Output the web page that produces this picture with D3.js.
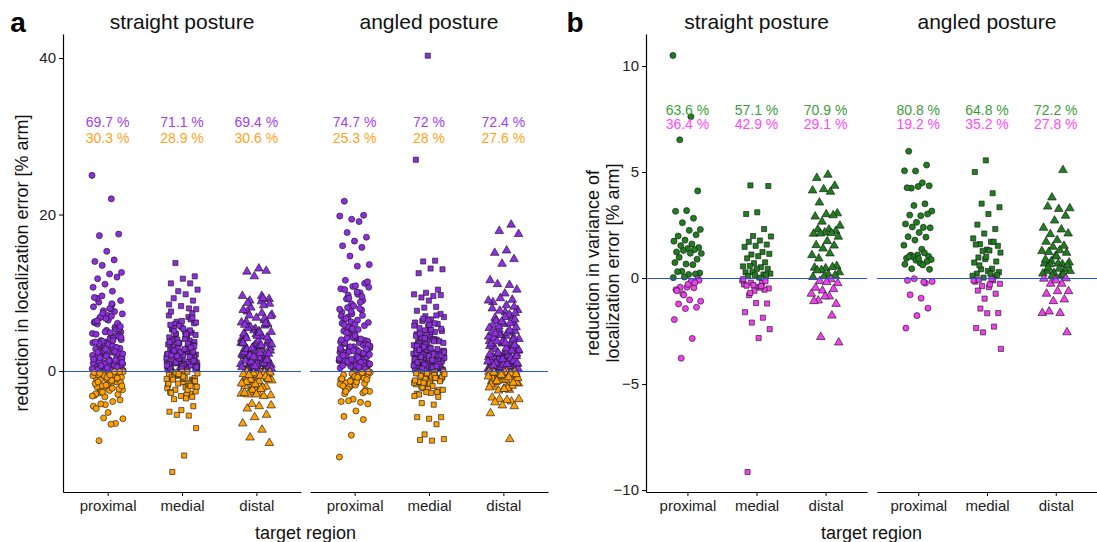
<!DOCTYPE html>
<html>
<head>
<meta charset="utf-8">
<script src="https://cdn.jsdelivr.net/npm/d3@7"></script>
<style>
  body { margin: 0; background: #fff; }
  svg { display: block; font-family: "Liberation Sans", Arial, sans-serif; }
</style>
</head>
<body>
<div id="chart"></div>
<script>
// categories
const regions = ["proximal", "medial", "distal"];
const postures = ["straight posture", "angled posture"];

// panel a: reduction in localization error [% arm]
const errStraightProximal = [25.0, 22.0, 17.3, 17.5, 15.3, 14.0, 14.2, 13.5, 12.6, 12.4, 11.8, 12.0, 11.1, 10.7, 10.2,
  3.2, 0.4, 7.1, 1.8, 5.5, 2.6, 0.9, 4.3, 8.8, 1.2, 3.7, 6.2, 0.2, 2.1, 5.0, 1.5, 9.3, 3.0, 0.7, 4.8, 2.4, 6.8, 1.1, 3.5, 0.3,
  7.6, 2.9, 1.6, 4.1, 0.6, 5.8, 2.2, 8.2, 1.0, 3.9, 0.5, 6.5, 1.9, 4.5, 2.7, 0.1, 7.9, 3.3, 1.4, 5.2, 0.8, 2.5, 9.6, 4.0, 1.3,
  6.0, 2.0, 0.4, 3.6, 8.5, 1.7, 4.6, 0.9, 2.8, 5.6, 1.1, 7.3, 3.1, 0.2, 2.3, 6.7, 1.5, 4.2, 0.6, 9.0, 3.4, 1.8, 5.3, 2.6, 0.3,
  7.0, 1.2, 4.4, 2.1, 6.3, 0.7, 3.8, 1.6, 8.0, 2.4, 0.5, 5.0, 1.0, 3.2, 6.9, 2.9, 0.8, 4.7, 1.4, 7.7, 2.2, 0.1, 3.5, 5.9, 1.9,
  9.4, 2.7, 0.6, 4.3, 1.3, 6.4, 3.0, 0.9, 2.0, 8.6, 1.7, 5.4, 0.4, 3.7, 2.5, 7.4, 1.1, 4.9, 0.2, 6.1, 2.8, 1.5, 3.9, 0.7, 5.7,
  -0.3, -1.2, -0.7, -2.1, -0.1, -1.6, -2.8, -0.5, -1.0, -3.1, -0.2, -1.9, -0.8, -2.5, -0.4, -1.4, -3.3, -0.6, -2.2, -1.1,
  -0.1, -1.7, -2.9, -0.9, -0.3, -2.4, -1.3, -0.5, -3.0, -1.8, -0.2, -0.7, -2.6, -1.5, -0.4, -2.0, -1.0, -0.6, -3.2, -1.2,
  -0.3, -2.3, -0.8, -1.6, -0.1, -2.7, -1.9, -0.5, -1.4, -0.9,
  -4.3, -4.5, -3.9, -4.2, -3.7, -5.3, -4.8, -6.7, -6.0, -6.1, -6.8, -8.9];
const errStraightMedial = [13.8, 12.1, 11.8, 11.2, 11.2, 10.2, 10.4, 9.8, 9.3, 9.0, 8.3, 8.5, 6.9, 6.3,
  2.1, 0.5, 5.3, 1.4, 3.6, 0.2, 4.4, 1.9, 6.1, 0.8, 2.7, 3.9, 1.1, 0.3, 5.0, 2.3, 7.4, 1.6, 0.6, 3.2, 4.7, 1.0, 2.5, 0.1, 6.6,
  3.5, 1.3, 0.4, 4.1, 2.0, 5.6, 0.9, 2.9, 1.7, 7.9, 0.2, 3.0, 4.9, 1.2, 0.7, 2.4, 6.0, 3.7, 1.5, 0.3, 5.2, 2.2, 0.8, 4.2, 1.8,
  3.3, 0.5, 7.1, 2.6, 1.0, 4.6, 0.1, 3.8, 1.4, 5.8, 2.1, 0.6, 3.1, 1.9, 6.4, 0.4, 2.8, 4.0, 1.1, 0.9, 5.5, 2.3, 1.6, 3.4, 0.2,
  4.8, 1.3, 2.0, 7.6, 0.7, 3.6, 1.7, 0.3, 5.1, 2.5, 0.5, 4.3, 1.2, 2.7, 6.2, 0.8, 3.9, 1.5, 0.1, 2.2, 4.5, 1.0, 3.2, 0.6, 5.9,
  1.8, 2.9, 0.4, 4.1, 1.4, 6.8, 2.4, 0.9, 3.5, 1.1, 0.2, 5.4, 2.0, 3.0, 1.6, 0.7, 4.7, 2.6, 1.3, 0.3, 3.7, 8.0, 1.9, 0.5, 2.8,
  -0.2, -1.1, -0.6, -1.8, -0.1, -2.4, -0.9, -1.4, -0.4, -2.9, -1.6, -0.3, -2.1, -0.7, -1.2, -3.2, -0.5, -1.9, -0.2, -2.6,
  -1.0, -0.8, -1.5, -0.3, -2.2, -3.0, -0.6, -1.3, -0.1, -2.7, -1.7, -0.4, -2.0, -0.9, -1.1, -3.3, -0.5, -1.6, -2.4, -0.2,
  -1.3, -0.7, -2.8, -1.9, -0.4, -1.0,
  -3.5, -3.6, -4.5, -5.0, -5.2, -5.7, -5.6, -7.3, -10.8, -12.9];
const errStraightDistal = [13.1, 12.7, 12.8, 12.1, 9.6, 9.6, 9.0, 9.2,
  1.2, 4.6, 0.3, 2.8, 7.2, 1.7, 0.6, 3.5, 5.4, 2.1, 0.9, 8.1, 3.0, 1.4, 6.3, 0.2, 2.5, 4.1, 1.0, 0.5, 3.8, 6.8, 1.9, 2.3, 0.1,
  5.0, 1.5, 7.6, 0.7, 3.3, 2.0, 4.4, 0.4, 8.6, 1.1, 2.7, 5.8, 0.8, 3.6, 1.6, 0.2, 6.0, 2.4, 4.8, 1.3, 0.6, 7.0, 3.1, 1.8, 0.3,
  5.2, 2.2, 8.9, 0.9, 4.0, 1.2, 2.9, 6.5, 0.5, 3.4, 1.7, 0.1, 4.3, 2.6, 7.8, 1.0, 5.6, 0.4, 3.9, 1.4, 2.1, 0.7, 6.2, 3.2, 1.9,
  0.3, 4.7, 2.4, 8.4, 1.1, 0.8, 5.1, 2.8, 1.5, 0.2, 3.7, 7.4, 2.0, 0.6, 4.5, 1.3, 6.7, 3.0, 0.9, 2.3, 5.5, 1.6, 0.4, 3.5, 9.3,
  1.2, 2.6, 0.1, 4.2, 6.1, 1.8, 0.5, 3.3, 7.1, 2.2, 0.8, 5.9, 1.0, 2.9, 0.3, 4.9, 8.7, 1.4, 0.6, 3.6,
  -0.3, -1.4, -0.1, -2.2, -0.8, -0.5, -1.8, -2.9, -0.2, -1.1, -0.6, -2.5, -1.6, -0.4, -0.9, -3.1, -1.3, -0.1, -2.0, -0.7,
  -1.5, -0.3, -2.7, -1.0, -0.5, -1.9, -0.2, -2.4, -1.2, -0.6, -3.0, -0.9, -1.7, -0.4, -2.1, -1.1, -0.2, -2.8, -1.4, -0.7,
  -0.3, -1.6, -2.3, -0.5, -1.0,
  -3.0, -2.8, -3.2, -4.2, -4.4, -4.5, -4.8, -5.6, -5.9, -6.7, -7.5, -8.5, -9.2];
const errAngledProximal = [21.7, 19.9, 19.4, 19.8, 19.1, 17.7, 17.1, 16.6, 16.0, 15.8, 14.7, 13.6, 13.4, 11.6, 11.2, 10.8,
  10.5, 10.0, 9.7, 11.4, 10.9,
  2.4, 0.6, 6.3, 1.3, 4.0, 9.2, 0.2, 3.1, 7.5, 1.8, 5.2, 0.9, 2.7, 10.4, 1.5, 4.6, 0.4, 3.6, 8.1, 2.0, 6.0, 1.1, 0.7, 5.5,
  2.9, 9.8, 1.6, 3.9, 0.3, 7.0, 2.2, 4.8, 1.0, 0.5, 6.6, 3.3, 8.6, 1.4, 2.5, 5.0, 0.1, 4.2, 1.9, 7.8, 3.0, 0.8, 10.1, 2.3,
  5.8, 1.2, 3.7, 0.4, 6.9, 2.6, 4.4, 1.7, 9.0, 0.6, 3.2, 5.3, 2.0, 0.2, 8.3, 1.5, 4.1, 2.8, 6.2, 0.9, 3.5, 1.1, 7.3, 2.4,
  0.3, 5.7, 1.8, 4.7, 0.7, 9.5, 3.0, 2.1, 6.5, 1.3, 0.5, 4.3, 2.7, 8.8, 1.0, 3.8, 0.1, 5.1, 2.2, 7.6, 1.6, 0.8, 4.9, 3.4,
  1.4, 6.1, 0.4, 2.5, 10.7, 1.9, 3.6, 0.6, 5.4, 2.9, 8.0, 1.2, 0.2, 4.5, 2.0, 7.1, 3.1, 0.9, 1.7, 6.7, 0.3, 2.6, 4.0, 1.1,
  9.3, 3.3, 0.7, 5.9, 2.3, 1.5, 7.9, 0.5, 4.2, 2.8,
  -0.2, -1.3, -0.6, -2.0, -0.1, -0.9, -2.5, -1.6, -0.4, -1.1, -0.3, -2.2, -0.7, -1.8, -0.5, -2.8, -1.2, -0.2, -0.8, -1.5,
  -2.4, -0.4, -1.0, -0.6, -2.0, -0.1, -1.4, -2.9, -0.9, -0.3, -1.7, -0.5, -2.3, -1.1, -0.7, -1.9, -0.2, -1.3, -2.6, -0.8,
  -2.6, -2.6, -3.6, -3.9, -4.0, -3.8, -4.2, -5.1, -5.8, -6.2, -8.2, -11.0];
const errAngledMedial = [40.3, 27.0, 14.1, 14.0, 13.0, 13.1, 12.5, 10.4, 10.0, 9.8, 9.6, 9.4, 9.7, 9.0, 7.7, 8.2, 8.1,
  1.9, 0.4, 4.6, 1.2, 3.0, 6.2, 0.1, 2.5, 5.1, 0.8, 3.7, 1.5, 7.0, 2.2, 0.5, 4.2, 1.0, 5.7, 2.8, 0.3, 3.4, 1.7, 6.6, 0.7,
  2.0, 4.9, 1.3, 0.2, 3.1, 5.4, 2.6, 0.9, 4.0, 1.6, 6.9, 0.5, 2.3, 3.8, 1.1, 0.1, 5.0, 2.9, 1.4, 4.4, 0.6, 6.0, 2.1, 3.3,
  0.8, 1.8, 7.3, 0.3, 4.7, 2.4, 1.0, 3.6, 0.4, 5.5, 1.5, 2.7, 0.2, 4.1, 6.4, 1.2, 3.0, 0.7, 2.0, 5.2, 1.7, 0.5, 3.9, 2.5,
  0.9, 4.5, 1.1, 6.7, 0.1, 2.9, 3.5, 1.4, 0.6, 5.8, 2.2, 4.3, 0.3, 1.9, 3.2, 7.1, 0.8, 2.6, 1.3, 4.8, 0.4, 3.7, 1.6, 6.1,
  2.1, 0.2, 5.0, 1.0, 2.8, 3.4, 0.7, 4.0, 1.8, 0.5, 6.5, 2.3, 1.2, 3.1, 0.1, 5.3, 2.7, 0.9, 4.6, 1.5, 3.8, 0.3, 2.0, 5.9,
  1.1, 0.6, 4.2, 2.4, 1.4,
  -0.2, -1.0, -0.5, -1.7, -0.1, -2.2, -0.8, -1.3, -0.3, -2.6, -0.6, -1.5, -0.2, -2.0, -1.1, -0.4, -2.9, -0.9, -1.8, -0.1,
  -0.7, -1.4, -2.4, -0.3, -1.2, -0.5, -2.1, -0.8, -1.6, -0.2, -2.7, -1.0, -0.4, -1.9, -0.6, -1.3, -2.3, -0.3, -0.9, -1.5,
  -2.4, -2.8, -3.0, -3.3, -2.7, -3.2, -4.3, -4.1, -5.9, -6.1, -5.9, -6.8, -8.1, -8.7, -8.9, -8.8];
const errAngledDistal = [18.7, 17.9, 17.5, 15.4, 15.1, 14.3, 13.7, 11.6, 11.0, 11.1, 10.4, 9.9, 8.8, 9.1, 9.3, 9.0,
  2.0, 0.5, 5.1, 1.4, 3.3, 7.0, 0.2, 2.7, 4.5, 1.0, 6.2, 0.8, 3.8, 1.7, 0.3, 5.6, 2.3, 8.0, 1.2, 0.6, 4.1, 2.9, 6.8, 0.1,
  3.5, 1.5, 5.0, 2.1, 0.9, 7.5, 3.0, 0.4, 4.7, 1.8, 2.5, 6.4, 0.7, 3.9, 1.1, 0.2, 5.3, 2.6, 8.4, 1.6, 4.3, 0.5, 3.2, 7.2,
  1.3, 2.2, 0.8, 5.9, 3.6, 1.9, 0.3, 4.9, 2.8, 6.6, 1.0, 0.6, 3.4, 1.5, 7.8, 2.4, 0.1, 4.0, 1.2, 5.5, 2.0, 0.9, 3.1, 6.0,
  1.7, 0.4, 4.6, 2.7, 1.1, 0.7, 8.2, 3.7, 1.4, 5.2, 2.2, 0.2, 6.9, 1.8, 3.0, 0.5, 4.4, 2.5, 1.0, 7.4, 0.8, 3.5, 1.6, 5.7,
  0.3, 2.9, 4.2, 1.3, 6.3, 2.1, 0.6, 3.8, 1.9, 0.1, 5.0, 2.6, 7.7, 1.2, 0.9, 4.8, 3.3, 1.5, 0.4, 6.1, 2.3, 1.0, 3.6, 0.7,
  -0.3, -1.1, -0.1, -1.8, -0.6, -0.2, -2.3, -1.3, -0.4, -0.9, -1.6, -0.1, -2.0, -0.5, -1.2, -0.3, -2.4, -0.8, -1.5, -0.2,
  -1.0, -1.9, -0.4, -0.7, -2.2, -1.4, -0.1, -0.6, -1.7, -0.3, -2.5, -0.9, -1.1, -0.2, -1.5, -0.5, -2.1, -0.8, -1.3, -0.4,
  -2.3, -3.4, -3.9, -3.6, -3.6, -3.7, -4.0, -4.5, -4.4, -5.4, -8.7];

// panel b: reduction in variance of localization error [% arm]
const varStraightProximal = [10.5, 7.61, 6.52, 4.11, 3.18, 3.15, 2.82, 2.61, 2.29, 2.25, 1.98, 2.04, 1.79, 1.74, 1.61,
  1.53, 1.44, 1.39, 1.23, 1.34, 1.30, 1.16, 1.17, 0.98, 0.89, 0.66, 0.73, 0.63, 0.32, 0.24, 0.17, 0.30, 0.19, 0.05, 0.02,
  -0.16, -0.43, -0.03, -0.43, -0.55, -0.46, -0.74, -1.09, -1.03, -1.22, -1.38, -1.44, -1.96, -2.85, -3.78,
  -0.10, -0.30, -0.60, -0.22, -0.80];
const varStraightMedial = [4.37, 4.34, 3.10, 3.02, 2.31, 1.98, 1.96, 1.77, 1.71, 1.58, 1.52, 1.47, 1.23, 1.11, 1.14,
  1.03, 0.93, 0.74, 0.70, 0.55, 0.51, 0.57, 0.43, 0.43, 0.27, 0.17, 0.28, 0.21, 0.02, 0.09, 0.13, 0.14,
  -0.30, -0.24, -0.22, -0.49, -0.43, -0.36, -0.55, -0.33, -0.11, -0.45, -0.81, -1.20, -1.18, -1.61, -1.87, -2.10,
  -2.41, -2.83, -9.15, -0.15, -0.60, -0.05, -0.38, -0.70];
const varStraightDistal = [4.87, 4.72, 4.35, 4.19, 4.13, 4.07, 3.56, 3.05, 3.01, 2.90, 2.96, 2.66, 2.47, 2.29, 2.29,
  2.22, 2.15, 2.09, 2.12, 2.10, 1.95, 1.74, 1.55, 1.53, 1.39, 1.08, 1.16, 0.92, 0.57, 0.46, 0.49, 0.52, 0.38, 0.27,
  0.17, 0.36, 0.13, 0.08, 0.05,
  -0.06, -0.14, -0.24, -0.19, -0.46, -0.52, -0.59, -0.74, -0.87, -1.06, -1.22, -0.87, -1.09, -1.77, -2.78, -3.04];
const varAngledProximal = [5.98, 5.33, 5.05, 5.06, 4.49, 4.24, 4.35, 4.32, 4.26, 3.50, 3.42, 3.16, 2.94, 2.97, 3.02,
  2.63, 2.55, 2.39, 2.41, 2.37, 2.15, 1.95, 1.93, 1.79, 1.55, 1.36, 1.08, 1.03, 1.09, 0.93, 1.19, 1.00, 0.87, 0.71,
  1.01, 0.78, 0.84, 0.65, 0.62, 0.44, 0.41, 0.92,
  -0.11, -0.24, -0.03, -0.16, -0.95, -0.79, -1.42, -1.77, -2.36, -0.19];
const varAngledMedial = [5.55, 5.00, 4.00, 3.51, 3.34, 3.02, 2.52, 2.31, 2.10, 1.87, 1.71, 1.60, 1.52, 1.34, 1.58, 1.71,
  1.28, 1.20, 1.30, 0.97, 0.78, 0.89, 0.73, 0.44, 0.41, 0.28, 0.33, 0.21, 0.08, 0.02, 0.11, 0.21, 0.60, 0.15, 1.00,
  -0.17, -0.11, -0.38, -0.27, -0.43, -0.59, -0.74, -0.97, -0.11, -0.05, -1.44, -1.65, -1.66, -2.36, -2.29, -2.56,
  -3.34, -0.30, -0.08];
const varAngledDistal = [5.09, 3.80, 3.29, 3.26, 3.37, 2.94, 2.71, 2.37, 2.29, 2.07, 2.10, 1.79, 1.71, 1.52, 1.47, 1.27,
  1.31, 1.23, 1.19, 1.04, 0.68, 0.65, 0.79, 0.73, 0.68, 0.33, 0.41, 0.24, 0.21, 0.09, 0.65, 0.62, 1.02, 0.87, 0.16,
  0.13, 0.33, 0.44, 0.49,
  -0.02, -0.06, -0.03, -0.27, -0.27, -0.62, -0.62, -0.74, -1.01, -1.09, -1.65, -1.65, -1.58, -2.56, -0.11];

// percentage labels (share of positive / negative reductions)
const errPctPos = ["69.7 %", "71.1 %", "69.4 %", "74.7 %", "72 %", "72.4 %"];
const errPctNeg = ["30.3 %", "28.9 %", "30.6 %", "25.3 %", "28 %", "27.6 %"];
const varPctPos = ["63.6 %", "57.1 %", "70.9 %", "80.8 %", "64.8 %", "72.2 %"];
const varPctNeg = ["36.4 %", "42.9 %", "29.1 %", "19.2 %", "35.2 %", "27.8 %"];

const errTicks = [0, 20, 40];
const varTicks = [-10, -5, 0, 5, 10];

const width = 1097, height = 542;
const shapes = [d3.symbolCircle, d3.symbolSquare, d3.symbolTriangle];
const shapeSize = [29, 26, 32];

const svg = d3.select("#chart").append("svg")
  .attr("width", width)
  .attr("height", height);

const panels = [
  {
    letter: "a", letterX: 18,
    facets: [[63, 301], [310, 548]],
    y: d3.scaleLinear().domain([-15.46, 43.07]).range([492, 34]),
    ticks: errTicks,
    groups: [[errStraightProximal, errStraightMedial, errStraightDistal],
             [errAngledProximal, errAngledMedial, errAngledDistal]],
    pos: "#8e2de2", neg: "#ffa000", posText: "#a040f5", negText: "#ffa31a",
    pctPos: errPctPos, pctNeg: errPctNeg, pctY: [31.8, 29.8],
    ylab: ["reduction in localization error [% arm]"], ylabX: [22]
  },
  {
    letter: "b", letterX: 575,
    facets: [[646, 867], [877, 1097]],
    y: d3.scaleLinear().domain([-10.09, 11.51]).range([492, 34]),
    ticks: varTicks,
    groups: [[varStraightProximal, varStraightMedial, varStraightDistal],
             [varAngledProximal, varAngledMedial, varAngledDistal]],
    pos: "#1f7f1f", neg: "#f23ff0", posText: "#3c9c3c", negText: "#ff48ff",
    pctPos: varPctPos, pctNeg: varPctNeg, pctY: [7.92, 7.25],
    ylab: ["reduction in variance of", "localization error [% arm]"], ylabX: [593, 613]
  }
];

const jitterWidth = 0.21;

panels.forEach((p) => {
  const g = svg.append("g");

  // panel letter
  g.append("text")
    .attr("x", p.letterX).attr("y", 22)
    .attr("text-anchor", "middle")
    .attr("dominant-baseline", "central")
    .style("font-size", "28px").style("font-weight", "bold")
    .text(p.letter);

  p.facets.forEach((range, fi) => {
    const x = d3.scaleLinear().domain([-0.6, 2.6]).range(range);

    // facet title
    g.append("text")
      .attr("x", (range[0] + range[1]) / 2).attr("y", 21)
      .attr("text-anchor", "middle")
      .attr("dominant-baseline", "central")
      .style("font-size", "21px").attr("fill", "#111")
      .text(postures[fi]);

    // jittered points
    p.groups[fi].forEach((vals, gi) => {
      g.append("g").selectAll("path")
        .data(vals)
        .join("path")
        .attr("d", d3.symbol().type(shapes[gi]).size(shapeSize[gi]))
        .attr("transform", (d, k) => {
          const j = ((k * 0.6180339887 + gi * 0.29 + fi * 0.17) % 1 - 0.5) * 2 * jitterWidth;
          return `translate(${x(gi + j)},${p.y(d)})`;
        })
        .attr("fill", (d) => (d >= 0 ? p.pos : p.neg))
        .attr("stroke", "#1a1a1a")
        .attr("stroke-width", 0.65);
    });

    // zero line
    const y0 = Math.round(p.y(0)) + 0.5;
    g.append("line")
      .attr("x1", range[0]).attr("x2", range[1])
      .attr("y1", y0).attr("y2", y0)
      .attr("stroke", "#2a4fe6").attr("stroke-width", 1.2);

    // percentage labels
    regions.forEach((r, gi) => {
      const idx = fi * 3 + gi;
      g.append("text")
        .attr("x", x(gi)).attr("y", p.y(p.pctY[0]))
        .attr("text-anchor", "middle").attr("dominant-baseline", "central")
        .style("font-size", "14px").attr("fill", p.posText)
        .text(p.pctPos[idx]);
      g.append("text")
        .attr("x", x(gi)).attr("y", p.y(p.pctY[1]))
        .attr("text-anchor", "middle").attr("dominant-baseline", "central")
        .style("font-size", "14px").attr("fill", p.negText)
        .text(p.pctNeg[idx]);
    });

    // bottom axis
    const xAxis = g.append("g")
      .attr("transform", `translate(0,${p.y.range()[0]})`)
      .call(d3.axisBottom(x).tickValues([0, 1, 2]).tickFormat((i) => regions[i]).tickSize(4).tickPadding(4).tickSizeOuter(0));
    xAxis.select(".domain").attr("stroke", "#000").attr("stroke-width", 1.2);
    xAxis.selectAll(".tick line").attr("stroke", "#000");
    xAxis.selectAll(".tick text")
      .style("font-size", "15px").style("font-family", "Liberation Sans, Arial, sans-serif")
      .attr("fill", "#222");
  });

  // left axis (first facet only)
  const yAxis = g.append("g")
    .attr("transform", `translate(${p.facets[0][0]},0)`)
    .call(d3.axisLeft(p.y).tickValues(p.ticks).tickSize(4).tickPadding(3).tickSizeOuter(0));
  yAxis.select(".domain").attr("stroke", "#000").attr("stroke-width", 1.2);
  yAxis.selectAll(".tick line").attr("stroke", "#000");
  yAxis.selectAll(".tick text")
    .style("font-size", "15px").style("font-family", "Liberation Sans, Arial, sans-serif")
    .attr("fill", "#222");

  // axis titles
  const midY = (p.y.range()[0] + p.y.range()[1]) / 2;
  p.ylab.forEach((line, li) => {
    g.append("text")
      .attr("transform", `translate(${p.ylabX[li]},${midY}) rotate(-90)`)
      .attr("text-anchor", "middle").attr("dominant-baseline", "central")
      .style("font-size", "18px").attr("fill", "#111")
      .text(line);
  });
  g.append("text")
    .attr("x", (p.facets[0][0] + p.facets[1][1]) / 2).attr("y", 533)
    .attr("text-anchor", "middle").attr("dominant-baseline", "central")
    .style("font-size", "18px").attr("fill", "#111")
    .text("target region");
});
</script>
</body>
</html>
